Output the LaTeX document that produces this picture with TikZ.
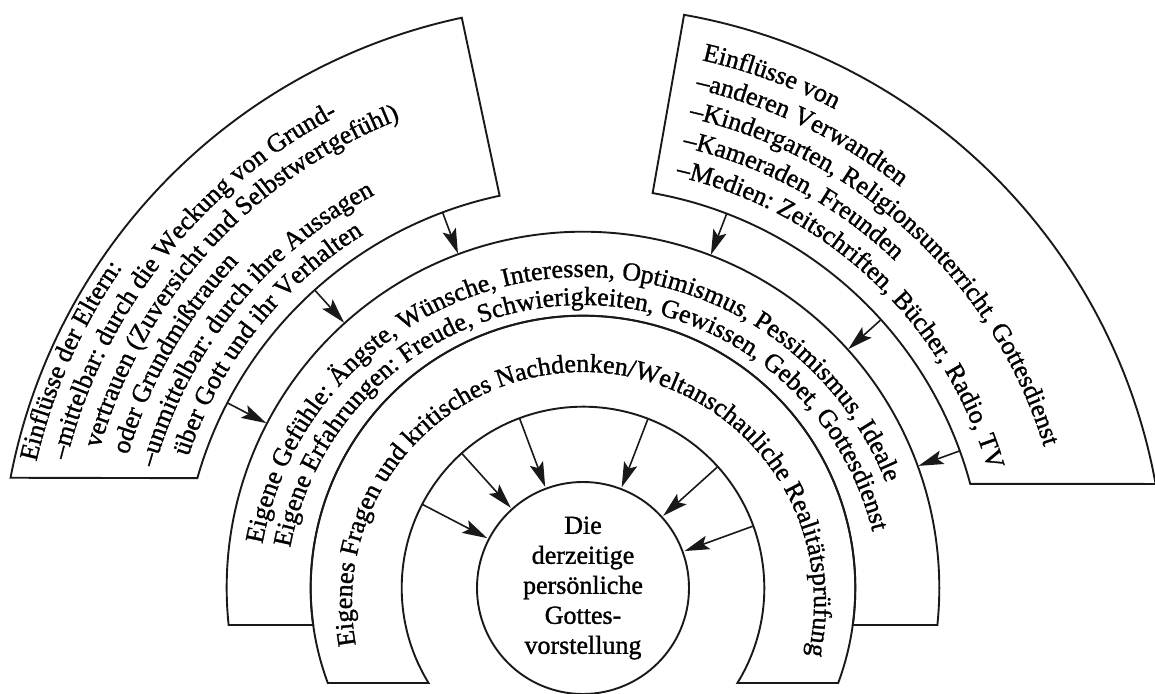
\documentclass[tikz,border=0pt]{standalone}
\usepackage{fontspec}
\setmainfont{Liberation Serif}[RawFeature={embolden=1.2}]
\usetikzlibrary{decorations.text,arrows.meta}
\newcommand\bogenfont{\fontsize{26}{30}\selectfont}

\begin{document}
\begin{tikzpicture}[x=1pt, y=1pt,
   rand/.style={draw=black!90, line width=1.9pt},
   pfeil/.style={draw=black!90, line width=1.6pt, -{Stealth[length=25pt, width=14pt, inset=5pt]}},
   zeile/.style={decorate, decoration={text along path, text align=left}},
   kreis/.style={circle, draw=black!90, line width=1.9pt, minimum size=212pt, inner sep=0pt,
                 align=center, font=\bogenfont}]

\useasboundingbox (-583,-105) rectangle (572,588);

\draw[rand] (169.1:583pt) arc[start angle=169.1, end angle=102, radius=583pt]
   -- (102:401pt) arc[start angle=102, end angle=164.1, radius=401pt] -- cycle;
\draw[rand] (80:582pt) arc[start angle=80, end angle=10.3, radius=582pt]
   -- (15.05:401pt) arc[start angle=15.05, end angle=80, radius=401pt] -- cycle;
\draw[rand] (185.96:356.3pt) arc[start angle=185.96, end angle=-5.96, radius=356.3pt]
   -- (-7.81:272.3pt) arc[start angle=-7.81, end angle=187.81, radius=272.3pt] -- cycle;
\draw[rand] (200.42:272.3pt) arc[start angle=200.42, end angle=-20.42, radius=272.3pt]
   -- (-31.6:181.3pt) arc[start angle=-31.6, end angle=211.6, radius=181.3pt] -- cycle;

\node[kreis] (gott) at (0,0) {Die\\derzeitige\\persönliche\\Gottes-\\vorstellung};

\path[zeile, decoration={text={|\bogenfont|Einflüsse der Eltern:}}]
   (167:561pt) arc[start angle=167, end angle=100, radius=561pt];
\path[zeile, decoration={text={|\bogenfont|–mittelbar: durch die Weckung von Grund-}}]
   (166.1:532pt) arc[start angle=166.1, end angle=100, radius=532pt];
\path[zeile, decoration={text={|\bogenfont|vertrauen (Zuversicht und Selbstwertgefühl)}}]
   (163.9:503pt) arc[start angle=163.9, end angle=100, radius=503pt];
\path[zeile, decoration={text={|\bogenfont|oder Grundmißtrauen}}]
   (163.7:474pt) arc[start angle=163.7, end angle=100, radius=474pt];
\path[zeile, decoration={text={|\bogenfont|–unmittelbar: durch ihre Aussagen}}]
   (164.3:445pt) arc[start angle=164.3, end angle=100, radius=445pt];
\path[zeile, decoration={text={|\bogenfont|über Gott und ihr Verhalten}}]
   (161.6:416pt) arc[start angle=161.6, end angle=100, radius=416pt];

\path[zeile, decoration={text={|\bogenfont|Einflüsse von}}]
   (77.3:541pt) arc[start angle=77.3, end angle=0, radius=541pt];
\path[zeile, decoration={text={|\bogenfont|–anderen Verwandten}}]
   (77.3:511.5pt) arc[start angle=77.3, end angle=0, radius=511.5pt];
\path[zeile, decoration={text={|\bogenfont|–Kindergarten, Religionsunterricht, Gottesdienst}}]
   (77.3:482pt) arc[start angle=77.3, end angle=0, radius=482pt];
\path[zeile, decoration={text={|\bogenfont|–Kameraden, Freunden}}]
   (77.3:452pt) arc[start angle=77.3, end angle=0, radius=452pt];
\path[zeile, decoration={text={|\bogenfont|–Medien: Zeitschriften, Bücher, Radio, TV}}]
   (77.3:422pt) arc[start angle=77.3, end angle=0, radius=422pt];

\begin{scope}[yshift=-15pt]
\path[zeile, decoration={text={|\bogenfont|Eigene Gefühle: Ängste, Wünsche, Interessen, Optimismus, Pessimismus, Ideale}}]
   (169.6:326pt) arc[start angle=169.6, end angle=-10, radius=326pt];
\path[zeile, decoration={text={|\bogenfont|Eigene Erfahrungen: Freude, Schwierigkeiten, Gewissen, Gebet, Gottesdienst}}]
   (169.3:298pt) arc[start angle=169.3, end angle=-10, radius=298pt];
\path[zeile, decoration={text={|\bogenfont|Eigenes Fragen und kritisches Nachdenken/Weltanschauliche Realitätsprüfung}}]
   (190.5:231pt) arc[start angle=190.5, end angle=-30, radius=231pt];
\end{scope}

\foreach \w [count=\n] in {152.5,132,110.5,69,42,20}{
  \coordinate (aus\n) at (\w:401pt);
  \coordinate (ein\n) at (\w:357pt);
  \coordinate (innen\n) at (\w:181pt);
  \draw[pfeil] (aus\n) -- (ein\n);
  \draw[pfeil, shorten >=1pt] (innen\n) -- (gott);
}

\end{tikzpicture}
\end{document}
